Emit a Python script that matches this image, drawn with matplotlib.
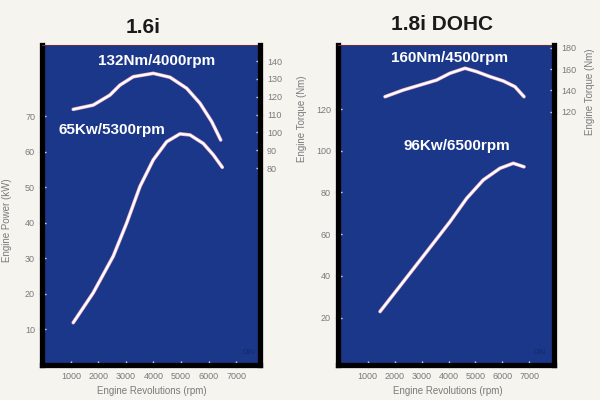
import matplotlib
matplotlib.use("Agg")
import matplotlib.pyplot as plt

plt.rcParams['font.family'] = ['Liberation Sans', 'DejaVu Sans']

# 1.6i engine curves
rpm_16_power = [1084, 1811, 2538, 3025, 3509, 3993, 4480, 4963, 5327, 5810, 6174, 6501]
kw_16 = [11.9, 20.3, 30.6, 39.9, 50.2, 57.7, 62.8, 65.0, 64.7, 62.3, 59.1, 55.6]
rpm_16_torque = [1084, 1811, 2418, 2782, 3265, 3993, 4600, 5207, 5690, 6116, 6443]
nm_16 = [112.9, 115.3, 120.9, 126.5, 131.2, 133.1, 130.9, 124.7, 116.3, 106.0, 95.7]

# 1.8i DOHC engine curves
rpm_18_power = [1457, 2322, 3191, 4056, 4676, 5292, 5912, 6406, 6804]
kw_18 = [22.9, 37.2, 51.6, 66.0, 77.2, 86.0, 91.6, 94.0, 92.3]
rpm_18_torque = [1642, 2322, 2942, 3562, 4056, 4613, 5047, 5541, 6035, 6469, 6804]
nm_18 = [134.1, 140.4, 145.1, 149.8, 156.2, 160.9, 157.7, 153.0, 148.9, 143.5, 134.1]

rpm_ticks = [1000, 2000, 3000, 4000, 5000, 6000, 7000]
kw_ticks_16 = [10, 20, 30, 40, 50, 60, 70]
nm_ticks_16 = [80, 90, 100, 110, 120, 130, 140]
kw_ticks_18 = [20, 40, 60, 80, 100, 120]
nm_ticks_18 = [120, 140, 160, 180]

paper = '#f6f4ef'
blue = '#1b378a'
grey = '#7a7a7a'

fig = plt.figure(figsize=(6, 4), dpi=100, facecolor=paper)


def style_axes(ax, twin):
    ax.set_facecolor(blue)
    for side in ['left', 'bottom']:
        ax.spines[side].set_color('black')
        ax.spines[side].set_linewidth(3.8)
    ax.spines['right'].set_visible(False)
    ax.spines['top'].set_color('#6b2f3a')
    ax.spines['top'].set_linewidth(0.8)
    twin.spines['right'].set_color('black')
    twin.spines['right'].set_linewidth(3.8)
    for s in ['left', 'bottom', 'top']:
        twin.spines[s].set_visible(False)
    for a in (ax, twin):
        a.tick_params(direction='inout', length=6, width=1, color='#e8e8e8',
                      labelsize=6.5, labelcolor=grey, pad=2)


def draw_curve(ax, x, y):
    ax.plot(x, y, color='#e4aac4', lw=2.6, solid_capstyle='round', solid_joinstyle='round')
    ax.plot(x, y, color='white', lw=1.6, solid_capstyle='round', solid_joinstyle='round')


# ---- left panel: 1.6i ----
ax1 = fig.add_axes([42 / 600, 35 / 400, 218 / 600, 320 / 400])
tw1 = ax1.twinx()
style_axes(ax1, tw1)
ax1.set_xlim(-50, 7870)
ax1.set_ylim(0, 90)
tw1.set_ylim(-30.5, 149)
ax1.set_xticks(rpm_ticks)
ax1.set_yticks(kw_ticks_16)
tw1.set_yticks(nm_ticks_16)
draw_curve(ax1, rpm_16_power, kw_16)
draw_curve(tw1, rpm_16_torque, nm_16)
tw1.text(4130, 140, '132Nm/4000rpm', color='white', fontsize=11, fontweight='bold',
         ha='center', va='center')
ax1.text(2490, 66.1, '65Kw/5300rpm', color='white', fontsize=11, fontweight='bold',
         ha='center', va='center')
ax1.text(0.945, 0.0375, 'DIN', transform=ax1.transAxes, color='#14296a', fontsize=5,
         ha='center', va='center')
ax1.text(0.463, 1.056, '1.6i', transform=ax1.transAxes, color='#1a1a1a', fontsize=15,
         fontweight='bold', ha='center', va='center')
ax1.set_xlabel('Engine Revolutions (rpm)', fontsize=7, color=grey)
ax1.xaxis.set_label_coords(0.505, -0.066)
ax1.set_ylabel('Engine Power (kW)', fontsize=7, color=grey)
ax1.yaxis.set_label_coords(-0.138, 0.453)
tw1.set_ylabel('Engine Torque (Nm)', fontsize=7, color=grey)
tw1.yaxis.set_label_coords(1.17, 0.769)

# ---- right panel: 1.8i DOHC ----
ax2 = fig.add_axes([338 / 600, 35 / 400, 216 / 600, 320 / 400])
tw2 = ax2.twinx()
style_axes(ax2, tw2)
ax2.set_xlim(-103, 7917)
ax2.set_ylim(-2.7, 150.7)
tw2.set_ylim(-118.5, 182.8)
ax2.set_xticks(rpm_ticks)
ax2.set_yticks(kw_ticks_18)
tw2.set_yticks(nm_ticks_18)
draw_curve(ax2, rpm_18_power, kw_18)
draw_curve(tw2, rpm_18_torque, nm_18)
tw2.text(4055, 170.6, '160Nm/4500rpm', color='white', fontsize=11, fontweight='bold',
         ha='center', va='center')
ax2.text(4305, 102.3, '96Kw/6500rpm', color='white', fontsize=11, fontweight='bold',
         ha='center', va='center')
ax2.text(0.935, 0.04, 'DIN', transform=ax2.transAxes, color='#14296a', fontsize=5,
         ha='center', va='center')
ax2.text(0.48, 1.0625, '1.8i DOHC', transform=ax2.transAxes, color='#1a1a1a', fontsize=15,
         fontweight='bold', ha='center', va='center')
ax2.set_xlabel('Engine Revolutions (rpm)', fontsize=7, color=grey)
ax2.xaxis.set_label_coords(0.509, -0.066)
tw2.set_ylabel('Engine Torque (Nm)', fontsize=7, color=grey)
tw2.yaxis.set_label_coords(1.143, 0.853)

fig.savefig('out.png', dpi=100, facecolor=paper)
